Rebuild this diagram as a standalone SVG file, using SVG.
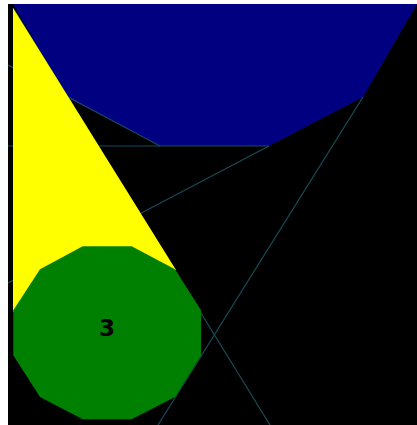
<svg xmlns="http://www.w3.org/2000/svg" width="417" height="425" viewBox="0 0 417 425">
<style>
.edge{stroke:#174b58;stroke-width:1.2;fill:none}
.lbl{font-family:"DejaVu Sans",sans-serif;font-weight:bold;font-size:23px;fill:#000;text-anchor:middle}
</style>
<rect x="0" y="0" width="417" height="425" fill="#ffffff"/>
<rect x="8" y="4" width="409" height="421" fill="#000000"/>
<g id="node-blue">
<polygon points="13,4 417,4 363,97 269,146 160,146 66,97" fill="#000080"/>
</g>
<g id="connectors">
<line class="edge" x1="8" y1="65" x2="160" y2="146"/>
<line class="edge" x1="8" y1="146" x2="269" y2="146"/>
<line class="edge" x1="269" y1="146" x2="8" y2="283"/>
<line class="edge" x1="363" y1="97" x2="158" y2="425"/>
<line class="edge" x1="13" y1="8" x2="270" y2="425"/>
</g>
<g id="node-yellow">
<polygon points="13,8 176,270 100,300 13,312" fill="#ffff00"/>
</g>
<g id="node-3">
<polygon points="82.7,246.3 131.7,246.3 175,269.3 201,310.3 201,355.3 175,397 131.7,419.3 82.7,419.3 40,397 13.3,355.3 13.3,310.3 40,269.3" fill="#008000"/>
<text class="lbl" x="107" y="336">3</text>
</g>
</svg>
